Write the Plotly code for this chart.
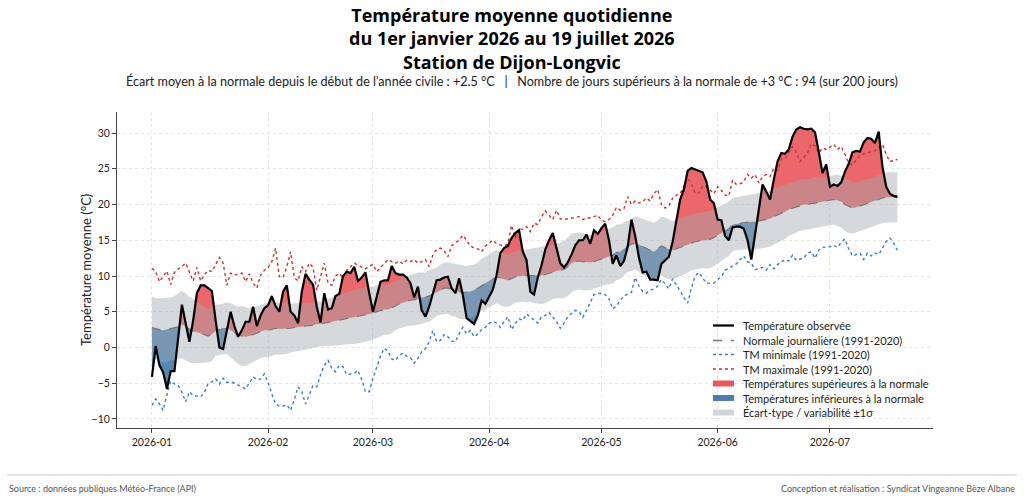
import pandas as pd
import plotly.graph_objects as go

# ---------------- DATA ----------------
start_date = "2026-01-01"
n_days = 200

observed = [
    -4.1, 0.2, -2.5, -3.5, -5.8, -3.3, -3.3, 1.5, 6.0, 3.4,
    0.8, 3.8, 7.6, 8.7, 8.7, 8.3, 7.9, 3.8, 0.0, -0.2,
    2.4, 5.0, 3.0, 1.5, 2.4, 3.6, 3.6, 5.7, 3.0, 4.5,
    5.5, 5.9, 7.2, 5.8, 5.0, 7.8, 8.7, 5.0, 4.5, 3.4,
    7.8, 10.3, 9.5, 8.8, 5.7, 3.5, 7.6, 5.3, 5.5, 7.2,
    7.5, 10.0, 10.6, 10.4, 11.3, 9.3, 9.8, 10.5, 7.6, 5.0,
    7.1, 9.2, 9.4, 9.4, 11.4, 10.4, 10.2, 10.2, 9.8, 9.0,
    7.0, 8.5, 5.2, 4.3, 5.7, 7.5, 9.4, 9.5, 9.8, 9.9,
    8.3, 7.6, 9.7, 7.3, 4.1, 3.7, 3.3, 4.5, 6.6, 6.1,
    7.1, 8.1, 10.1, 13.2, 13.9, 14.2, 15.3, 16.0, 16.4, 13.4,
    12.2, 7.8, 7.4, 9.8, 11.5, 13.7, 15.0, 16.0, 13.9, 11.8,
    11.2, 11.9, 13.0, 14.3, 15.0, 15.0, 15.8, 14.5, 16.4, 15.9,
    16.7, 17.3, 15.0, 11.7, 12.9, 11.4, 12.1, 14.1, 17.9, 15.6,
    12.6, 10.5, 10.6, 9.5, 9.5, 9.4, 11.7, 12.2, 12.7, 14.8,
    17.9, 20.7, 22.1, 24.7, 25.1, 24.9, 24.6, 24.5, 23.2, 20.7,
    20.2, 17.9, 17.8, 15.6, 15.0, 16.8, 16.9, 16.9, 16.6, 15.0,
    12.3, 15.7, 18.8, 22.8, 21.8, 20.7, 23.5, 26.0, 27.2, 27.1,
    27.7, 29.5, 30.5, 30.8, 30.6, 30.5, 30.6, 30.1, 27.4, 24.4,
    25.6, 22.5, 22.8, 22.6, 23.1, 24.6, 25.7, 27.3, 27.5, 27.4,
    28.7, 29.3, 29.2, 28.6, 30.2, 25.3, 22.5, 21.5, 21.2, 21.1,
]

normal = [
    2.8, 2.6, 2.5, 2.4, 2.5, 2.6, 2.7, 2.9, 3.2, 2.9,
    2.5, 2.3, 2.1, 2.0, 1.8, 1.6, 1.9, 2.4, 2.5, 2.6,
    2.7, 2.4, 2.0, 1.7, 1.6, 1.5, 1.6, 1.8, 2.0, 2.2,
    2.4, 2.4, 2.6, 2.7, 2.6, 2.6, 2.6, 2.7, 2.8, 2.8,
    2.9, 3.0, 3.0, 3.1, 3.3, 3.3, 3.4, 3.5, 3.6, 3.8,
    3.9, 4.0, 4.1, 4.2, 4.3, 4.4, 4.5, 4.6, 4.7, 4.8,
    5.0, 5.2, 5.3, 5.3, 5.5, 5.8, 6.1, 6.3, 6.5, 6.6,
    6.7, 6.8, 6.9, 7.0, 7.2, 7.5, 7.8, 8.1, 8.3, 8.3,
    8.1, 8.0, 7.8, 7.7, 7.7, 7.8, 8.0, 8.3, 8.7, 9.0,
    9.3, 9.6, 9.9, 9.7, 9.5, 9.4, 9.6, 9.9, 10.0, 10.0,
    10.0, 10.1, 10.0, 10.0, 10.1, 10.2, 10.4, 10.6, 10.7, 10.8,
    10.9, 11.3, 11.8, 12.0, 12.1, 12.0, 11.9, 11.9, 12.0, 12.2,
    12.4, 12.6, 12.7, 12.9, 13.3, 13.4, 13.8, 14.2, 14.4, 14.6,
    14.4, 14.1, 13.9, 13.6, 13.4, 13.8, 14.2, 14.0, 13.7, 13.6,
    13.8, 14.0, 14.2, 14.5, 14.7, 14.8, 14.9, 15.0, 15.0, 15.1,
    15.4, 15.7, 16.0, 16.3, 16.6, 17.2, 17.3, 17.4, 17.5, 17.5,
    17.6, 17.6, 17.7, 17.8, 17.9, 18.0, 18.3, 18.5, 18.7, 19.0,
    19.3, 19.5, 19.7, 19.9, 20.0, 20.0, 20.1, 20.2, 20.2, 20.3,
    20.5, 20.6, 20.7, 20.6, 20.4, 20.0, 19.7, 19.5, 19.6, 19.8,
    20.0, 20.1, 20.3, 20.5, 20.7, 20.9, 21.0, 21.0, 21.0, 21.0,
]

std_dev = [
    4.3, 4.3, 4.4, 4.5, 4.5, 4.4, 4.5, 4.6, 4.7, 4.7,
    4.6, 4.5, 4.3, 4.1, 3.9, 3.7, 3.8, 3.6, 3.5, 3.5,
    3.6, 3.8, 3.9, 4.0, 4.2, 4.1, 3.9, 3.8, 3.8, 3.7,
    3.7, 3.8, 3.8, 3.7, 3.6, 3.6, 3.5, 3.4, 3.4, 3.4,
    3.3, 3.3, 3.3, 3.2, 3.2, 3.1, 3.2, 3.3, 3.4, 3.5,
    3.6, 3.6, 3.6, 3.7, 3.8, 3.8, 3.8, 3.9, 3.8, 3.7,
    3.7, 3.6, 3.5, 3.5, 3.5, 3.4, 3.4, 3.5, 3.5, 3.6,
    3.6, 3.7, 3.6, 3.5, 3.6, 3.5, 3.4, 3.5, 3.6, 3.6,
    3.7, 3.7, 3.8, 3.8, 3.7, 3.7, 3.6, 3.6, 3.7, 3.7,
    3.8, 3.8, 3.7, 3.8, 3.8, 3.7, 3.7, 3.6, 3.6, 3.6,
    3.7, 3.7, 3.8, 3.9, 4.0, 4.0, 3.9, 3.8, 3.8, 3.9,
    4.0, 4.1, 4.1, 4.0, 4.0, 4.0, 3.9, 3.9, 3.8, 3.8,
    3.8, 3.8, 3.9, 3.9, 3.9, 3.8, 3.7, 3.6, 3.7, 3.7,
    3.8, 3.9, 3.9, 3.9, 4.0, 4.0, 4.1, 4.2, 4.2, 4.1,
    4.1, 4.1, 4.0, 4.0, 3.9, 3.9, 3.9, 3.9, 4.0, 4.0,
    4.0, 3.9, 3.8, 3.8, 3.8, 3.7, 3.7, 3.7, 3.8, 3.8,
    3.8, 3.9, 3.9, 3.8, 3.8, 3.9, 3.9, 3.9, 3.8, 3.8,
    3.7, 3.7, 3.6, 3.6, 3.6, 3.5, 3.6, 3.6, 3.5, 3.5,
    3.5, 3.5, 3.5, 3.6, 3.6, 3.7, 3.7, 3.6, 3.5, 3.5,
    3.5, 3.4, 3.4, 3.4, 3.4, 3.5, 3.5, 3.5, 3.5, 3.5,
]

tm_max = [
    11.1, 10.6, 9.2, 10.0, 10.7, 8.8, 10.5, 11.0, 11.3, 11.8,
    10.5, 9.3, 11.2, 9.3, 10.2, 10.8, 10.6, 11.5, 12.6, 11.8,
    8.7, 10.4, 10.1, 10.3, 10.4, 9.2, 10.3, 9.0, 8.3, 10.1,
    10.8, 11.2, 12.0, 13.9, 9.9, 9.8, 11.3, 13.4, 9.8, 9.3,
    11.3, 10.6, 11.8, 11.2, 8.0, 9.9, 11.8, 9.0, 8.7, 10.0,
    10.4, 9.7, 10.8, 11.3, 11.8, 11.5, 11.2, 11.0, 11.4, 11.6,
    10.6, 11.2, 11.8, 12.3, 12.0, 11.8, 12.1, 11.7, 12.2, 12.0,
    12.3, 11.8, 12.0, 12.3, 11.3, 13.0, 13.7, 13.9, 13.5, 12.7,
    14.2, 14.7, 15.0, 15.7, 15.0, 14.2, 13.9, 13.8, 13.4, 14.2,
    14.6, 15.0, 14.5, 14.3, 14.2, 14.5, 17.1, 15.3, 16.7, 16.5,
    16.9, 16.2, 17.4, 17.2, 18.3, 19.1, 18.5, 17.9, 19.2, 18.0,
    17.9, 18.0, 18.1, 18.3, 18.3, 17.9, 18.0, 18.2, 18.3, 18.5,
    17.8, 17.6, 17.9, 18.5, 19.6, 19.2, 19.4, 21.1, 20.0, 20.5,
    20.2, 20.4, 20.9, 20.5, 21.5, 22.1, 20.0, 19.5, 19.8, 20.9,
    21.3, 21.5, 22.7, 23.7, 22.9, 21.6, 21.6, 22.6, 22.5, 22.0,
    21.5, 22.5, 22.0, 21.3, 21.2, 23.4, 22.8, 22.9, 23.2, 24.2,
    23.7, 24.2, 23.0, 23.9, 24.2, 23.9, 25.1, 24.8, 26.3, 26.4,
    27.2, 28.1, 27.3, 26.0, 26.6, 27.2, 28.5, 28.2, 27.2, 27.9,
    27.7, 28.1, 28.4, 27.7, 28.1, 27.0, 25.8, 25.5, 26.2, 26.9,
    27.1, 27.2, 27.3, 27.5, 28.0, 28.4, 27.0, 26.0, 26.2, 26.3,
]

tm_min = [
    -8.1, -7.2, -7.9, -8.8, -6.6, -4.7, -5.1, -5.3, -6.3, -7.6,
    -6.2, -6.7, -6.8, -6.9, -6.3, -5.0, -4.8, -4.4, -5.1, -4.3,
    -4.9, -4.8, -5.0, -5.2, -5.5, -5.8, -4.9, -4.1, -4.5, -4.4,
    -3.7, -4.9, -6.5, -7.9, -8.2, -8.2, -8.0, -8.8, -7.3, -5.5,
    -6.2, -7.9, -6.6, -5.3, -5.5, -3.8, -2.5, -1.8, -2.9, -3.4,
    -2.5, -2.7, -3.8, -3.7, -3.6, -3.2, -4.5, -6.2, -6.2, -4.3,
    -2.7, -1.2, -0.1, -0.5, -1.6, -1.8, -1.1, -0.8, -1.2, -1.4,
    -2.2, -1.5, -0.6, -0.2, 0.8, 2.4, 0.8, 1.0, 1.8, 1.5,
    0.9, 0.8, 1.9, 2.8, 1.9, 2.4, 1.5, 1.9, 2.5, 2.8,
    3.4, 3.6, 3.4, 2.8, 3.6, 4.3, 2.5, 3.4, 4.0, 3.8,
    4.7, 4.3, 3.8, 3.4, 4.3, 4.5, 4.9, 4.3, 3.6, 2.7,
    3.4, 4.3, 4.8, 5.2, 5.0, 4.2, 5.2, 6.3, 7.4, 7.6,
    7.5, 7.4, 6.8, 5.4, 5.8, 6.6, 7.2, 7.4, 7.7, 9.8,
    8.6, 7.8, 7.6, 8.0, 8.2, 8.6, 9.5, 8.9, 8.2, 9.6,
    8.8, 7.9, 7.0, 6.2, 8.3, 10.0, 10.5, 9.8, 9.0, 9.0,
    9.0, 9.5, 9.9, 10.8, 11.1, 11.3, 11.7, 12.3, 12.8, 12.0,
    11.8, 10.9, 11.0, 11.2, 10.8, 11.6, 11.0, 11.6, 12.0, 12.3,
    12.1, 12.9, 12.2, 12.3, 12.5, 13.2, 13.4, 12.5, 13.6, 14.0,
    14.0, 14.1, 14.3, 14.0, 14.7, 15.2, 13.8, 12.8, 13.0, 13.2,
    12.3, 13.2, 12.8, 13.2, 13.0, 14.0, 14.8, 15.3, 14.6, 13.6,
]

title_lines = [
    "Température moyenne quotidienne",
    "du 1er janvier 2026 au 19 juillet 2026",
    "Station de Dijon-Longvic",
]
subtitle = ("Écart moyen à la normale depuis le début de l'année civile : +2.5 °C"
            "   |   Nombre de jours supérieurs à la normale de +3 °C : 94 (sur 200 jours)")
y_title = "Température moyenne (°C)"
source_text = "Source : données publiques Météo-France (API)"
credit_text = "Conception et réalisation : Syndicat Vingeanne Bèze Albane"
legend_names = [
    "Température observée",
    "Normale journalière (1991-2020)",
    "TM minimale (1991-2020)",
    "TM maximale (1991-2020)",
    "Températures supérieures à la normale",
    "Températures inférieures à la normale",
    "Écart-type / variabilité ±1σ",
]
x_range = ["2025-12-22 16:00", "2026-07-28 12:00"]
y_range = [-11.26, 32.94]
y_ticks = [-10, -5, 0, 5, 10, 15, 20, 25, 30]

# ---------------- STYLE ----------------
FONT = "Lato"
RED_FILL = "rgba(232,82,86,0.88)"
BLUE_FILL = "rgba(62,118,170,0.88)"
GRAY_BAND = "rgba(165,170,176,0.45)"
GRAY_LEGEND = "rgb(210,213,216)"
RED_DOT = "#c8332f"
BLUE_DOT = "#3a7cc8"
GRID_DASH = "3px,3px"

base = pd.Timestamp(start_date)
dates = [base + pd.Timedelta(days=i) for i in range(n_days)]

# augmented series with crossing points (obs vs normal) for sign-split fills
xa, na, oa = [], [], []
for i in range(n_days):
    xa.append(dates[i]); na.append(normal[i]); oa.append(observed[i])
    if i < n_days - 1:
        d0 = observed[i] - normal[i]
        d1 = observed[i + 1] - normal[i + 1]
        if d0 * d1 < 0:
            t = d0 / (d0 - d1)
            xc = dates[i] + pd.Timedelta(days=t)
            yc = normal[i] + t * (normal[i + 1] - normal[i])
            xa.append(xc); na.append(yc); oa.append(yc)
red_top = [max(o, n) for o, n in zip(oa, na)]
blue_bot = [min(o, n) for o, n in zip(oa, na)]
band_lo = [n - s for n, s in zip(normal, std_dev)]
band_hi = [n + s for n, s in zip(normal, std_dev)]

fig = go.Figure()
nolegend = dict(showlegend=False, hoverinfo="skip")
fig.add_trace(go.Scatter(x=xa, y=na, mode="lines", line=dict(width=0), **nolegend))
fig.add_trace(go.Scatter(x=xa, y=red_top, mode="lines", line=dict(width=0),
                         fill="tonexty", fillcolor=RED_FILL, **nolegend))
fig.add_trace(go.Scatter(x=xa, y=blue_bot, mode="lines", line=dict(width=0), **nolegend))
fig.add_trace(go.Scatter(x=xa, y=na, mode="lines", line=dict(width=0),
                         fill="tonexty", fillcolor=BLUE_FILL, **nolegend))
fig.add_trace(go.Scatter(x=dates, y=band_lo, mode="lines", line=dict(width=0), **nolegend))
fig.add_trace(go.Scatter(x=dates, y=band_hi, mode="lines", line=dict(width=0),
                         fill="tonexty", fillcolor=GRAY_BAND, **nolegend))
fig.add_trace(go.Scatter(x=dates, y=normal, mode="lines",
                         line=dict(color="rgba(110,110,110,0.9)", width=1.1, dash="dash"), **nolegend))
fig.add_trace(go.Scatter(x=dates, y=tm_min, mode="lines",
                         line=dict(color=BLUE_DOT, width=1.4, dash="dot"), **nolegend))
fig.add_trace(go.Scatter(x=dates, y=tm_max, mode="lines",
                         line=dict(color=RED_DOT, width=1.4, dash="dot"), **nolegend))
fig.add_trace(go.Scatter(x=dates, y=observed, mode="lines",
                         line=dict(color="black", width=2.2), **nolegend))

L, R, T, B = 117, 933, 112, 428
W, H = 1024, 499
pw, ph = R - L, B - T

def px(xp):
    return (xp - L) / pw

def py(yp):
    return (B - yp) / ph

annotations = []
annotations.append(dict(text="<br>".join(f"<b>{t}</b>" for t in title_lines),
                        x=px(512), y=py(38.5), xref="paper", yref="paper",
                        xanchor="center", yanchor="middle", showarrow=False, align="center",
                        font=dict(family="Open Sans", size=18, color="black")))
annotations.append(dict(text=subtitle, x=px(512), y=py(81), xref="paper", yref="paper",
                        xanchor="center", yanchor="middle", showarrow=False,
                        font=dict(family=FONT, size=12.6, color="#222")))
annotations.append(dict(text=y_title, x=px(86), y=py(270), xref="paper", yref="paper",
                        xanchor="center", yanchor="middle", showarrow=False, textangle=-90,
                        font=dict(family=FONT, size=13, color="#222")))
annotations.append(dict(text=source_text, x=px(7), y=py(488), xref="paper", yref="paper",
                        xanchor="left", yanchor="middle", showarrow=False,
                        font=dict(family=FONT, size=9, color="#555")))
annotations.append(dict(text=credit_text, x=px(1017), y=py(488), xref="paper", yref="paper",
                        xanchor="right", yanchor="middle", showarrow=False,
                        font=dict(family=FONT, size=9, color="#555")))

shapes = [dict(type="line", xref="paper", yref="paper", x0=px(7), x1=px(1017),
               y0=py(475), y1=py(475), line=dict(color="#cccccc", width=1))]

# manual legend
leg_y = [325.5, 340.5, 354.5, 369.0, 383.5, 398.0, 412.5]
sw_x0, sw_x1, txt_x = 713, 734, 741
line_styles = [
    dict(color="black", width=2.2, dash="solid"),
    dict(color="#777777", width=1.4, dash="dash"),
    dict(color=BLUE_DOT, width=1.3, dash="dot"),
    dict(color=RED_DOT, width=1.3, dash="dot"),
]
fill_colors = ["rgb(232,88,90)", "rgb(78,126,172)", GRAY_LEGEND]
for i, name in enumerate(legend_names):
    yc = leg_y[i]
    if i < 4:
        shapes.append(dict(type="line", xref="paper", yref="paper", x0=px(sw_x0), x1=px(sw_x1),
                           y0=py(yc), y1=py(yc), line=line_styles[i]))
    else:
        shapes.append(dict(type="rect", xref="paper", yref="paper", x0=px(sw_x0), x1=px(sw_x1),
                           y0=py(yc + 3), y1=py(yc - 3), line=dict(width=0),
                           fillcolor=fill_colors[i - 4]))
    annotations.append(dict(text=name, x=px(txt_x), y=py(yc), xref="paper", yref="paper",
                            xanchor="left", yanchor="middle", showarrow=False,
                            font=dict(family=FONT, size=11, color="#222")))

fig.update_layout(
    width=W, height=H,
    margin=dict(l=L, r=W - R, t=T, b=H - B),
    paper_bgcolor="white", plot_bgcolor="white",
    font=dict(family=FONT, size=11, color="#222"),
    annotations=annotations,
    shapes=shapes,
    showlegend=False,
)
fig.update_xaxes(range=x_range, type="date", tickformat="%Y-%m", dtick="M1",
                 tick0="2026-01-01", showgrid=True, gridcolor="#e3e3e3", griddash=GRID_DASH,
                 gridwidth=0.8, showline=True, linecolor="#444", linewidth=1,
                 ticks="outside", ticklen=4, tickcolor="#444", zeroline=False,
                 tickfont=dict(family=FONT, size=10.5, color="#222"))
fig.update_yaxes(range=y_range, tickvals=y_ticks, showgrid=True, gridcolor="#e3e3e3",
                 griddash=GRID_DASH, gridwidth=0.8, showline=True, linecolor="#444", linewidth=1,
                 ticks="outside", ticklen=4, tickcolor="#444", zeroline=False,
                 tickfont=dict(family=FONT, size=10.5, color="#222"))

fig.write_html("out.html")
